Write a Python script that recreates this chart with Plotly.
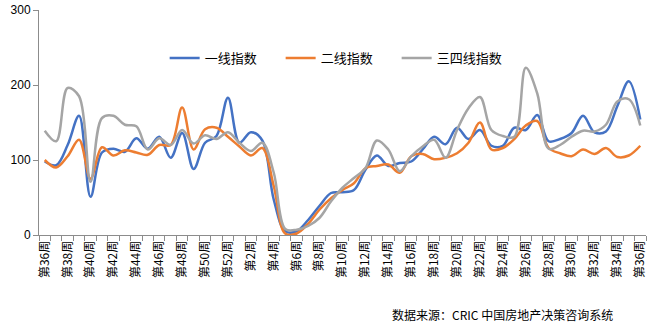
import plotly.graph_objects as go

weeks = ["第36周", "第37周", "第38周", "第39周", "第40周", "第41周", "第42周", "第43周",
         "第44周", "第45周", "第46周", "第47周", "第48周", "第49周", "第50周", "第51周",
         "第52周", "第1周", "第2周", "第3周", "第4周", "第5周", "第6周", "第7周",
         "第8周", "第9周", "第10周", "第11周", "第12周", "第13周", "第14周", "第15周",
         "第16周", "第17周", "第18周", "第19周", "第20周", "第21周", "第22周", "第23周",
         "第24周", "第25周", "第26周", "第27周", "第28周", "第29周", "第30周", "第31周",
         "第32周", "第33周", "第34周", "第35周", "第36周"]

tier1 = [98, 93, 120, 159, 51, 110, 115, 111, 129, 115, 131, 103, 136, 88, 123, 132,
         183, 123, 137, 126, 47, 5, 5, 20, 39, 56, 57, 60, 87, 106, 92, 96,
         98, 114, 131, 121, 143, 128, 140, 119, 119, 143, 140, 160, 125, 128, 136, 159,
         137, 138, 172, 205, 154]
tier2 = [100, 90, 105, 127, 75, 117, 106, 113, 110, 107, 120, 120, 170, 114, 141, 143,
         131, 118, 106, 116, 65, 2, 2, 15, 34, 49, 60, 69, 89, 92, 94, 83,
         105, 108, 101, 103, 109, 123, 150, 114, 116, 128, 146, 152, 116, 109, 105, 114,
         108, 116, 104, 106, 119]
tier3 = [139, 125, 196, 185, 71, 156, 159, 147, 145, 114, 129, 120, 140, 122, 133, 128,
         137, 123, 112, 123, 83, 8, 7, 12, 23, 45, 63, 76, 89, 126, 114, 85,
         105, 118, 127, 103, 140, 169, 184, 140, 132, 131, 223, 189, 115, 120, 131, 139,
         138, 147, 178, 181, 146]

series_names = ["一线指数", "二线指数", "三四线指数"]
colors = ["#4472C4", "#ED7D31", "#A5A5A5"]
y_ticks = [0, 100, 200, 300]

idx = list(range(len(weeks)))

fig = go.Figure()
for name, vals, col in zip(series_names, [tier1, tier2, tier3], colors):
    fig.add_trace(go.Scatter(
        x=idx, y=vals, name=name, mode="lines",
        line=dict(color=col, width=2.5, shape="spline", smoothing=1.0),
    ))

axis_color = "#8c8c8c"
fig.update_layout(
    width=662, height=330,
    margin=dict(l=38.5, r=16, t=10, b=95, autoexpand=False),
    plot_bgcolor="white", paper_bgcolor="white",
    font=dict(family="Noto Sans CJK SC, sans-serif", size=12, color="#000000"),
    showlegend=True,
    legend=dict(
        orientation="h", x=0.207, xanchor="left", y=0.787, yanchor="middle",
        font=dict(size=13, family="Noto Sans CJK SC"),
        entrywidth=71, entrywidthmode="pixels",
        bgcolor="rgba(0,0,0,0)",
    ),
    xaxis=dict(
        range=[-0.5, len(weeks) - 0.5],
        tickmode="array", tickvals=idx[::2], ticktext=weeks[::2],
        tickangle=-90, ticks="", showgrid=False, zeroline=False,
        showline=True, linecolor=axis_color, linewidth=1,
        tickfont=dict(size=12, family="Noto Sans CJK SC", color="#000"),
        minor=dict(tickmode="linear", tick0=-0.5, dtick=1, ticks="outside",
                   ticklen=5, tickcolor=axis_color, showgrid=False),
    ),
    yaxis=dict(
        range=[0, 300], tickmode="array", tickvals=y_ticks,
        ticks="outside", ticklen=5, tickcolor=axis_color,
        showgrid=False, zeroline=False,
        showline=True, linecolor=axis_color, linewidth=1,
        tickfont=dict(size=12, family="Liberation Sans", color="#000"),
    ),
    annotations=[dict(
        text="数据来源：CRIC 中国房地产决策咨询系统",
        xref="paper", yref="paper", x=(502 - 38.5) / 607.5, y=-(314 - 235) / 225,
        xanchor="center", yanchor="middle", showarrow=False,
        font=dict(size=12, family="Noto Sans CJK SC", color="#000"),
    )],
)

fig.write_html("out.html")
